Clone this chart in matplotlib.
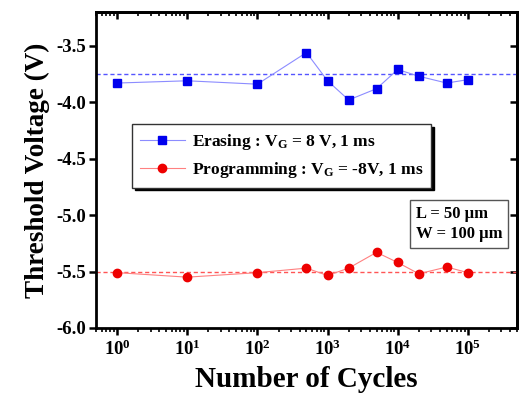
import matplotlib
matplotlib.use('Agg')
import matplotlib.pyplot as plt
from matplotlib.ticker import LogLocator, NullFormatter

plt.rcParams['font.family'] = ['Liberation Serif', 'DejaVu Serif']
plt.rcParams['font.weight'] = 'bold'
plt.rcParams['axes.labelweight'] = 'bold'
plt.rcParams['mathtext.fontset'] = 'custom'
plt.rcParams['mathtext.rm'] = 'Liberation Serif:bold'
plt.rcParams['mathtext.bf'] = 'Liberation Serif:bold'
plt.rcParams['mathtext.it'] = 'Liberation Serif:bold:italic'

# cycles
cycles = [1, 10, 100, 500, 1000, 2000, 5000, 10000, 20000, 50000, 100000]
# threshold voltages (V)
erase_vt = [-3.83, -3.81, -3.84, -3.56, -3.81, -3.98, -3.88, -3.71, -3.77, -3.83, -3.80]
prog_vt = [-5.51, -5.55, -5.51, -5.47, -5.535, -5.47, -5.33, -5.42, -5.52, -5.46, -5.51]
erase_ref = -3.75
prog_ref = -5.5
yticks = [-6.0, -5.5, -5.0, -4.5, -4.0, -3.5]
xticks = [1, 10, 100, 1000, 10000, 100000]

fig = plt.figure(figsize=(5.2, 3.98), dpi=100)
ax = fig.add_axes([0.1846, 0.176, 0.8094, 0.794])

ax.axhline(erase_ref, color='#5555ff', ls='--', lw=1.0, dashes=(3, 2))
ax.axhline(prog_ref, color='#ff5555', ls='--', lw=1.0, dashes=(3, 2))

ax.plot(cycles, erase_vt, color='#8c8cff', lw=0.8, marker='s', ms=5.5,
        mfc='#0000ee', mec='#0000ee', label=r'Erasing : V$_\mathrm{G}$ = 8 V, 1 ms')
ax.plot(cycles, prog_vt, color='#ff8080', lw=0.8, marker='o', ms=6,
        mfc='#ee0000', mec='#ee0000', label=r'Programming : V$_\mathrm{G}$ = -8V, 1 ms')

ax.set_xscale('log')
ax.set_xlim(0.5, 5e5)
ax.set_ylim(-6.0, -3.2)
ax.set_yticks(yticks)
ax.set_yticklabels([f'{v:.1f}' for v in yticks])
ax.set_xticks(xticks)
ax.xaxis.set_minor_locator(LogLocator(base=10, subs=range(2, 10), numticks=20))
ax.xaxis.set_minor_formatter(NullFormatter())

ax.set_xlabel('Number of Cycles', fontsize=21, labelpad=5)
ax.set_ylabel('Threshold Voltage (V)', fontsize=19.5, labelpad=5)

for s in ax.spines.values():
    s.set_linewidth(2)
ax.tick_params(axis='both', which='major', direction='out', length=5, width=1.8, labelsize=13.5)
ax.tick_params(axis='both', which='minor', direction='out', length=3, width=1.2)
ax.tick_params(axis='y', which='major', pad=2)

# mirrored ticks pointing inwards on top and right
top = ax.secondary_xaxis('top')
top.set_xscale('log')
top.set_xticks(xticks)
top.xaxis.set_minor_locator(LogLocator(base=10, subs=range(2, 10), numticks=20))
top.tick_params(which='major', direction='in', length=5, width=1.8, labeltop=False)
top.tick_params(which='minor', direction='in', length=3, width=1.2)
top.spines['top'].set_linewidth(2)
right = ax.secondary_yaxis('right')
right.set_yticks(yticks)
right.tick_params(direction='in', length=5, width=1.8, labelright=False)
right.spines['right'].set_linewidth(2)

leg = ax.legend(loc='upper left', bbox_to_anchor=(0.085, 0.645), borderaxespad=0,
                fontsize=12.5, fancybox=False, shadow={'color': 'black', 'alpha': 1},
                handlelength=2.6, handletextpad=0.4, labelspacing=0.45,
                borderpad=0.45, framealpha=1)
leg.get_frame().set_edgecolor('#333333')
leg.get_frame().set_linewidth(1.0)

ax.text(0.76, 0.385, 'L = 50 \u03bcm\nW = 100 \u03bcm', transform=ax.transAxes,
        ha='left', va='top', fontsize=12, linespacing=1.35,
        bbox=dict(boxstyle='square,pad=0.35', fc='white', ec='#555555', lw=1.0))

fig.savefig('out.png', dpi=100)
